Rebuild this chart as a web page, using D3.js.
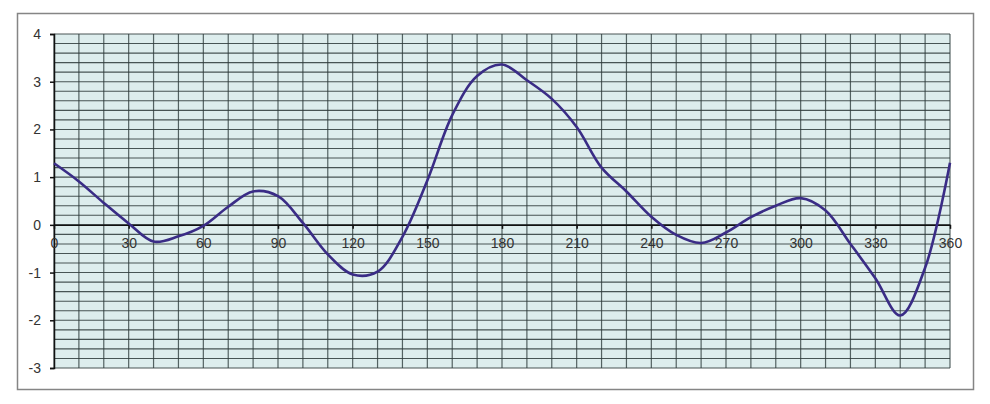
<!DOCTYPE html>
<html>
<head>
<meta charset="utf-8">
<script src="https://cdn.jsdelivr.net/npm/d3@7"></script>
<style>
  body { margin: 0; background: #fff; }
  text { font-family: "Liberation Sans", Arial, sans-serif; fill: #333; }
</style>
</head>
<body>
<div id="chart"></div>
<script>
// degrees along the x axis and the curve value read at each one
var degrees = [0, 10, 20, 30, 40, 50, 60, 70, 80, 90, 100, 110, 120, 130, 140, 150, 160, 170, 180,
  190, 200, 210, 220, 230, 240, 250, 260, 270, 280, 290, 300, 310, 320, 330, 340, 350, 360];
var values = [1.29, 0.91, 0.46, 0.03, -0.35, -0.24, -0.02, 0.38, 0.70, 0.60, 0.04, -0.62, -1.04, -0.98, -0.25, 0.93, 2.3, 3.12, 3.36,
  3.03, 2.64, 2.05, 1.2, 0.70, 0.17, -0.21, -0.38, -0.16, 0.16, 0.4, 0.56, 0.3, -0.4, -1.12, -1.9, -0.9, 1.3];
var xTicks = [0, 30, 60, 90, 120, 150, 180, 210, 240, 270, 300, 330, 360];
var yTicks = [-3, -2, -1, 0, 1, 2, 3, 4];

var W = 990, H = 404;
var margin = { top: 34, right: 40, bottom: 36, left: 54 },
  width = 950 - margin.left,
  height = 368 - margin.top;

// plain hyphen minus, like the original
var plain = function(d) { return String(d); };

var svg = d3.select("#chart").append("svg")
  .attr("width", W)
  .attr("height", H);

// outer chart frame
svg.append("rect")
  .attr("x", 17.5).attr("y", 13.5)
  .attr("width", 956).attr("height", 376)
  .attr("fill", "#fff")
  .attr("stroke", "#858585")
  .attr("stroke-width", 1.5);

var g = svg.append("g")
  .attr("transform", "translate(" + margin.left + "," + margin.top + ")");

var x = d3.scaleLinear().domain([0, 360]).range([0, width]);
var y = d3.scaleLinear().domain([-3, 4]).range([height, 0]);

g.append("rect")
  .attr("width", width).attr("height", height)
  .attr("fill", "#ddeded");

// minor grid: every 10 degrees and every 0.2 units
g.append("g").selectAll("line")
  .data(d3.range(0, 361, 10))
  .enter().append("line")
  .attr("x1", function(d) { return x(d); })
  .attr("x2", function(d) { return x(d); })
  .attr("y1", 0).attr("y2", height)
  .attr("stroke", "#3c4a4a")
  .attr("stroke-width", 1.2)
  .attr("opacity", 0.85);

g.append("g").selectAll("line")
  .data(d3.range(-3, 4.01, 0.2))
  .enter().append("line")
  .attr("x1", 0).attr("x2", width)
  .attr("y1", function(d) { return y(d); })
  .attr("y2", function(d) { return y(d); })
  .attr("stroke", "#2e3a3a")
  .attr("stroke-width", 1.1)
  .attr("opacity", 0.85);

// y axis
var yAxis = d3.axisLeft(y).tickValues(yTicks).tickFormat(plain).tickSize(4).tickPadding(9);
var ya = g.append("g").call(yAxis);
ya.select(".domain").attr("stroke", "#111").attr("stroke-width", 1.5);
ya.selectAll(".tick line").attr("stroke", "#111").attr("stroke-width", 1.5);
ya.selectAll("text").style("font-size", "14px").attr("fill", "#333");

// x axis along zero
var xAxis = d3.axisBottom(x).tickValues(xTicks).tickFormat(plain).tickSize(4).tickSizeOuter(0).tickPadding(9);
var xa = g.append("g")
  .attr("transform", "translate(0," + y(0) + ")")
  .call(xAxis);
xa.select(".domain").attr("stroke", "#111").attr("stroke-width", 1.5);
xa.selectAll(".tick line").attr("stroke", "#111").attr("stroke-width", 1.5);
xa.selectAll("text").style("font-size", "14px").attr("fill", "#333");

var data = degrees.map(function(d, i) { return { deg: d, v: values[i] }; });

var line = d3.line()
  .x(function(d) { return x(d.deg); })
  .y(function(d) { return y(d.v); })
  .curve(d3.curveCatmullRom.alpha(0.5));

g.append("path")
  .datum(data)
  .attr("d", line)
  .attr("fill", "none")
  .attr("stroke", "#3a2c86")
  .attr("stroke-width", 2.6)
  .attr("stroke-linejoin", "round");
</script>
</body>
</html>
